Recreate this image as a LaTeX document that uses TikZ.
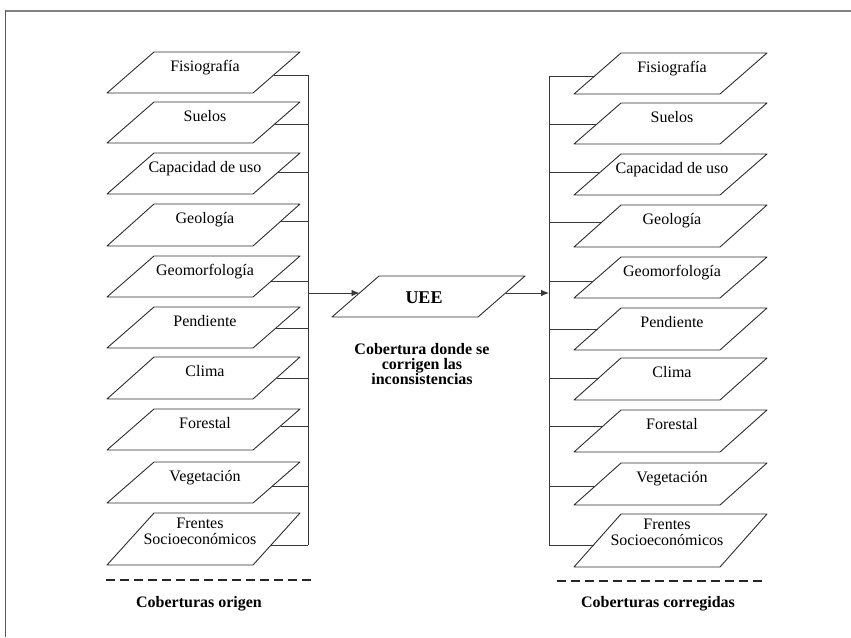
\documentclass[tikz,border=0pt]{standalone}
\usepackage{fontspec}
\setmainfont{Liberation Serif}
\usetikzlibrary{calc,arrows.meta}

% one layer: a parallelogram given its lower-left x, top y and height
\newcommand{\capa}[4]{%
  \coordinate (#1-bl) at (#2,#3+#4);
  \coordinate (#1-br) at (#2+146,#3+#4);
  \coordinate (#1-tr) at (#2+193,#3);
  \coordinate (#1-tl) at (#2+47,#3);
  \draw[capaline] (#1-bl) -- (#1-br) -- (#1-tr) -- (#1-tl) -- cycle;
}

\begin{document}
\begin{tikzpicture}[x=1pt,y=-1pt,
  capaline/.style={draw=black!82, line width=0.9pt, line join=round},
  wire/.style={draw=black!78, line width=0.9pt},
  arrowwire/.style={wire, -{Latex[length=8pt,width=6.5pt]}},
  lbl/.style={font=\fontsize{16}{16}\selectfont, inner sep=0pt, anchor=base},
  lbltwo/.style={font=\fontsize{16}{16}\selectfont, inner sep=0pt, anchor=north, align=center},
  boldlbl/.style={font=\fontsize{16}{16}\selectfont\bfseries, inner sep=0pt, anchor=base},
  dashline/.style={draw=black!85, line width=2pt, dash pattern=on 9.3pt off 4.7pt}]

\useasboundingbox (0,0) rectangle (851,637);
\fill[white] (0,0) rectangle (851,637);

% frame
\draw[line width=2.5pt, black!50] (5,11) -- (851,11);
\draw[line width=1pt, black!65] (5.5,10) -- (5.5,637);

\coordinate (lbus) at (308,0);
\coordinate (rbus) at (549,0);

% source layers
\foreach \n/\t/\h/\c/\lab in {
  lfis/52/41/75/Fisiografía,
  lsue/102/41/124/Suelos,
  lcap/153/41/172/Capacidad de uso,
  lgeo/204/42/221/Geología,
  lgmf/256/41/281/Geomorfología,
  lpen/307/41/328/Pendiente,
  lcli/357/42/378/Clima,
  lfor/409/41/426/Forestal,
  lveg/462/41/486/Vegetación}{
  \capa{\n}{107}{\t}{\h}
  \node[lbl] (\n-txt) at (205,\t+19) {\lab};
  \coordinate (\n-out) at ($(\n-tr)!{(\c-\t)/\h}!(\n-br)$);
  \draw[wire] (\n-out) -- (\n-out -| lbus);
}
\capa{lfre}{107}{513}{52}
\node[lbltwo] (lfre-txt) at (200,517.5) {Frentes\\Socioeconómicos};
\coordinate (lfre-out) at ($(lfre-tr)!{32/52}!(lfre-br)$);
\draw[wire] (lfre-out) -- (lfre-out -| lbus);
\draw[wire] (lfis-out -| lbus) -- (lfre-out -| lbus);

% corrected layers
\foreach \n/\t/\h/\c/\lab in {
  rfis/53/41/76/Fisiografía,
  rsue/103/41/124/Suelos,
  rcap/154/41/172/Capacidad de uso,
  rgeo/205/42/222/Geología,
  rgmf/257/41/281/Geomorfología,
  rpen/308/42/329/Pendiente,
  rcli/358/42/378/Clima,
  rfor/410/42/426/Forestal,
  rveg/463/42/486/Vegetación}{
  \capa{\n}{574}{\t}{\h}
  \node[lbl] (\n-txt) at (672,\t+19) {\lab};
  \coordinate (\n-in) at ($(\n-tl)!{(\c-\t)/\h}!(\n-bl)$);
  \draw[wire] (\n-in -| rbus) -- (\n-in);
}
\capa{rfre}{574}{514}{53}
\node[lbltwo] (rfre-txt) at (667,518.5) {Frentes\\Socioeconómicos};
\coordinate (rfre-in) at ($(rfre-tl)!{31/53}!(rfre-bl)$);
\draw[wire] (rfre-in -| rbus) -- (rfre-in);
\draw[wire] (rfis-in -| rbus) -- (rfre-in -| rbus);

% central layer
\capa{uee}{332}{276}{41}
\node[font=\fontsize{18}{18}\selectfont\bfseries, inner sep=0pt, anchor=base] (uee-txt) at (424,303) {UEE};
\coordinate (uee-in) at ($(uee-tl)!{17/41}!(uee-bl)$);
\coordinate (uee-out) at ($(uee-tr)!{17/41}!(uee-br)$);
\draw[arrowwire] (uee-in -| lbus) -- (uee-in);
\draw[arrowwire] (uee-out) -- (uee-out -| rbus);
\node[font=\fontsize{16}{15}\selectfont\bfseries, inner sep=0pt,
      anchor=north, align=center] (uee-desc) at (422,343)
  {Cobertura donde se\\corrigen las\\inconsistencias};

% group captions
\coordinate (lgrp-a) at (106,580);
\coordinate (lgrp-b) at (312,580);
\coordinate (rgrp-a) at (557,581);
\coordinate (rgrp-b) at (763,581);
\draw[dashline] (lgrp-a) -- (lgrp-b);
\draw[dashline] (rgrp-a) -- (rgrp-b);
\node[boldlbl] (lgrp-txt) at (199,607) {Coberturas origen};
\node[boldlbl] (rgrp-txt) at (658,607) {Coberturas corregidas};

\end{tikzpicture}
\end{document}
